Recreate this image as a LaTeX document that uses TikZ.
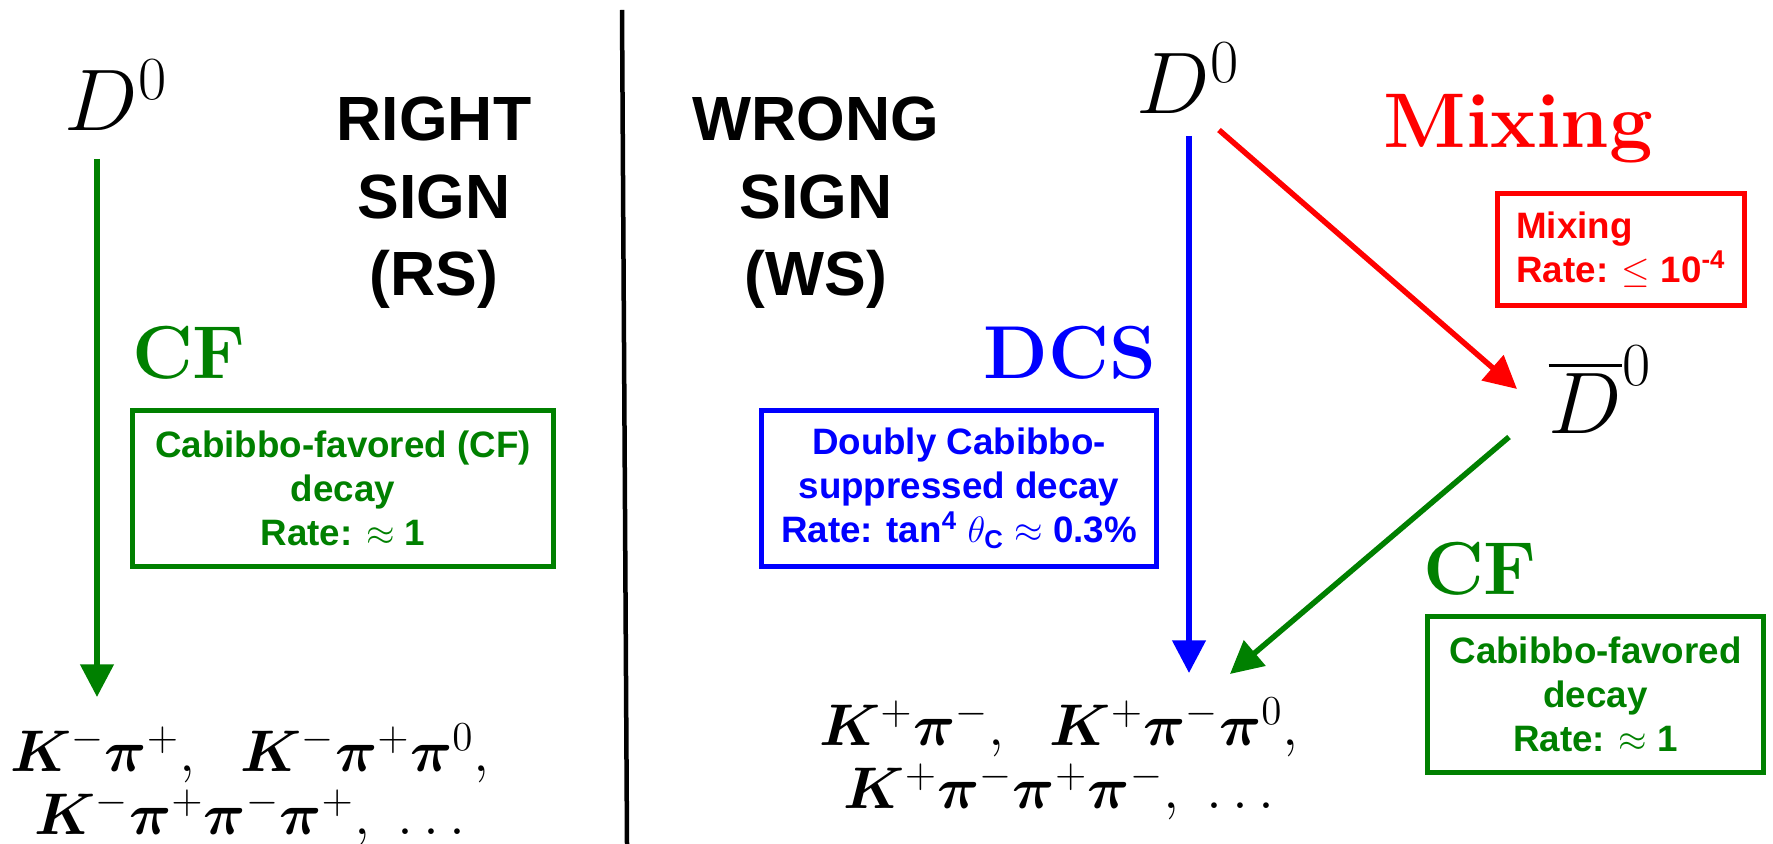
\RequirePackage{fix-cm}
\documentclass[tikz,border=0pt]{standalone}
\usepackage{amsmath}
\usepackage{bm}
\usepackage{fontspec}
\setsansfont{Liberation Sans}
\usetikzlibrary{arrows.meta}
\definecolor{cfgreen}{RGB}{0,128,0}
\definecolor{dcsblue}{RGB}{0,0,255}
\definecolor{mixred}{RGB}{255,0,0}
\begin{document}
\begin{tikzpicture}[x=0.4pt,y=-0.4pt,
  big/.style={font=\fontsize{35pt}{40pt}\selectfont, inner sep=0pt, anchor=base},
  head/.style={font=\sffamily\bfseries\fontsize{25pt}{30pt}\selectfont, inner sep=0pt, anchor=base},
  lbl/.style={font=\bfseries\fontsize{30pt}{36pt}\selectfont, inner sep=0pt, anchor=base},
  box/.style={draw, line width=2.1pt, inner sep=0pt, align=center, font=\sffamily\bfseries\fontsize{14.7pt}{17.6pt}\selectfont},
  fml/.style={font={\fontsize{23.5pt}{25.4pt}\selectfont\lineskiplimit-30pt\relax}, inner sep=0pt, align=center, anchor=base},
  arr/.style={line width=2.2pt, -{Triangle[width=13pt,length=13pt]}},
]
\useasboundingbox (0,0) rectangle (1773,844);
% divider
\coordinate (v1) at (622,10);
\coordinate (v2) at (627,844);
\draw[line width=1.8pt] (v1) -- (v2);
% left side
\node[big] (D0L) at (116,131) {$D^0$};
\node[head] (rs1) at (434,141) {RIGHT};
\node[head] (rs2) at (434,219) {SIGN};
\node[head] (rs3) at (434,296) {(RS)};
\node[lbl, text=cfgreen] (cfL) at (189,379) {CF};
\node[box, cfgreen, minimum width=168.4pt, minimum height=62.4pt] (boxL) at (343,488.5)
  {Cabibbo-favored (CF)\\decay\\Rate: $\approx$ 1};
\node[fml] (fL) at (250,835)
  {$\bm{K}^-\bm{\pi}^+,\ \ \bm{K}^-\bm{\pi}^+\bm{\pi}^0,$\\$\bm{K}^-\bm{\pi}^+\bm{\pi}^-\bm{\pi}^+,\ \ldots$};
\coordinate (gL1) at (97,159);
\coordinate (gL2) at (97,697);
\draw[arr, cfgreen] (gL1) -- (gL2);
% right side
\node[head] (ws1) at (816,141) {WRONG};
\node[head] (ws2) at (816,219) {SIGN};
\node[head] (ws3) at (816,296) {(WS)};
\node[big] (D0R) at (1188,114) {$D^0$};
\node[lbl, text=dcsblue] (dcs) at (1070,379) {DCS};
\node[box, dcsblue, minimum width=158pt, minimum height=62.4pt] (boxB) at (959,488.5)
  {Doubly Cabibbo-\\suppressed decay\\Rate: tan\textsuperscript{4} $\theta_{\text{C}}$ $\approx$ 0.3\%};
\node[fml] (fR) at (1059,809)
  {$\bm{K}^+\bm{\pi}^-,\ \ \bm{K}^+\bm{\pi}^-\bm{\pi}^0,$\\$\bm{K}^+\bm{\pi}^-\bm{\pi}^+\bm{\pi}^-,\ \ldots$};
\node[lbl, text=mixred, font=\bfseries\fontsize{31pt}{36pt}\selectfont] (mix) at (1518,148) {Mixing};
\node[box, mixred, align=left, minimum width=98.8pt, minimum height=44.8pt] (boxM) at (1621,249.5)
  {Mixing\\Rate: $\leq$ 10\textsuperscript{-4}};
\node[big] (Dbar) at (1600,434) {$\overline{D}^0$};
\node[lbl, text=cfgreen] (cfR) at (1480,595) {CF};
\node[box, cfgreen, minimum width=134.4pt, minimum height=62.4pt] (boxR) at (1595.5,694.5)
  {Cabibbo-favored\\decay\\Rate: $\approx$ 1};
\coordinate (b1) at (1189,136);
\coordinate (b2) at (1189,673);
\draw[arr, dcsblue] (b1) -- (b2);
\coordinate (r1) at (1219,130);
\coordinate (r2) at (1517,389);
\draw[arr, mixred] (r1) -- (r2);
\coordinate (g1) at (1509,437);
\coordinate (g2) at (1230,674);
\draw[arr, cfgreen] (g1) -- (g2);
\end{tikzpicture}
\end{document}
